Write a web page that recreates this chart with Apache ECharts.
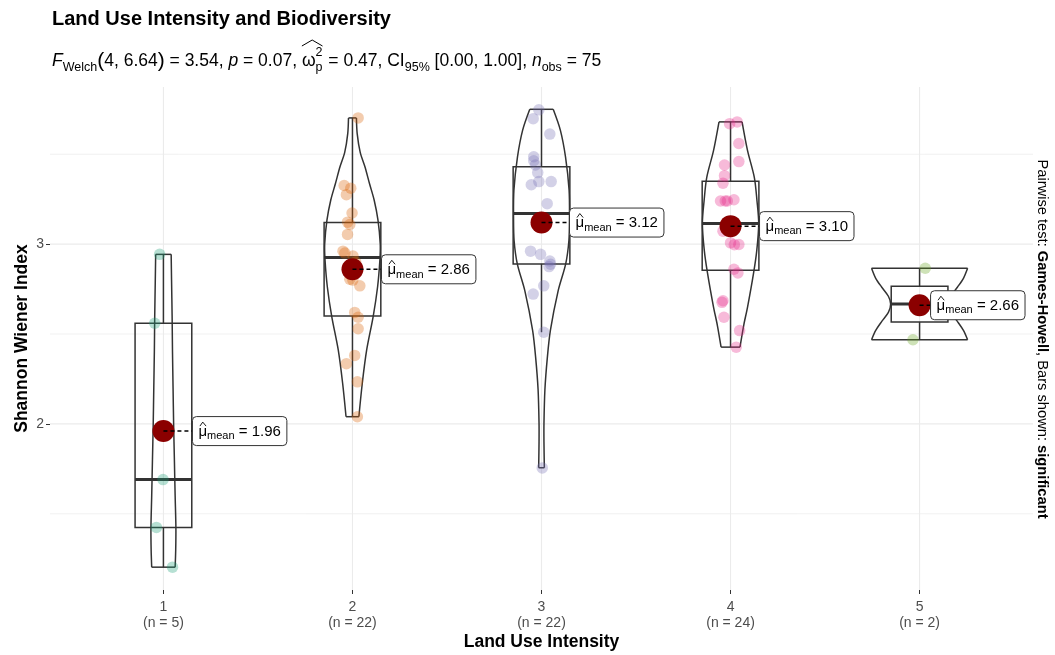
<!DOCTYPE html>
<html>
<head>
<meta charset="utf-8">
<script src="https://cdn.jsdelivr.net/npm/echarts@6/dist/echarts.min.js"></script>
<style>html,body{margin:0;padding:0;background:#fff}#chart{width:1055px;height:655px}</style>
</head>
<body>
<div id="chart"></div>
<script>
// ---------------- data ----------------
const categories = [1, 2, 3, 4, 5];
const groupCounts = [5, 22, 22, 24, 2];
const meanValues = [1.96, 2.86, 3.12, 3.10, 2.66];

const g1Values = [2.943, 2.56, 1.69, 1.424, 1.203];
const g1Jitter = [-0.02, -0.046, -0.002, -0.037, 0.048];

const g2Values = [3.702, 3.326, 3.311, 3.275, 3.173, 3.122, 3.109, 3.054, 2.961, 2.950, 2.934,
                  2.90, 2.805, 2.80, 2.768, 2.62, 2.593, 2.529, 2.381, 2.335, 2.234, 2.04];
const g2Jitter = [0.03, -0.044, -0.009, -0.032, -0.002, -0.026, -0.014, -0.026, -0.05, -0.04, 0.003,
                  0.017, -0.014, 0.002, 0.039, 0.012, 0.03, 0.03, 0.012, -0.032, 0.026, 0.026];

const g3Values = [3.747, 3.698, 3.612, 3.486, 3.464, 3.44, 3.398, 3.348, 3.348, 3.33, 3.225,
                  3.13, 3.10, 2.961, 2.943, 2.906, 2.888, 2.875, 2.768, 2.722, 2.51, 1.755];
const g3Jitter = [-0.014, -0.044, 0.044, -0.041, -0.041, -0.032, -0.02, -0.014, 0.051, -0.054, 0.03,
                  0.01, -0.016, -0.058, -0.005, 0.044, 0.048, 0.04, 0.012, -0.044, 0.012, 0.004];

const g4Values = [3.68, 3.67, 3.56, 3.459, 3.44, 3.381, 3.339, 3.247, 3.24, 3.24, 3.24, 3.12,
                  3.11, 3.072, 3.007, 2.998, 2.997, 2.86, 2.84, 2.685, 2.676, 2.593, 2.519, 2.427];
const g4Jitter = [0.035, -0.005, 0.044, 0.044, -0.032, -0.032, -0.04, 0.018, -0.053, -0.028, -0.017, 0.009,
                  -0.012, -0.04, 0, 0.044, 0.02, 0.018, 0.039, -0.04, -0.045, -0.035, 0.048, 0.03];

const g5Values = [2.866, 2.468];
const g5Jitter = [0.03, -0.035];

// box statistics: [lower whisker, Q1, median, Q3, upper whisker]
const boxStats = [
  [1.203, 1.424, 1.69, 2.56, 2.943],
  [2.04, 2.60, 2.925, 3.12, 3.702],
  [2.51, 2.89, 3.17, 3.43, 3.747],
  [2.427, 2.855, 3.115, 3.35, 3.68],
  [2.468, 2.567, 2.667, 2.766, 2.866]
];

// violin outlines: [value, half-width in category units]
const violin1 = [[1.203,0.062],[1.3,0.065],[1.424,0.066],[1.6,0.062],[1.8,0.058],[2.0,0.054],[2.2,0.051],[2.4,0.048],[2.6,0.046],[2.8,0.043],[2.943,0.041]];
const violin2 = [[2.04,0.034],[2.226,0.052],[2.41,0.075],[2.6,0.11],[2.763,0.133],[2.91,0.145],[3.0,0.147],[3.133,0.135],[3.244,0.115],[3.337,0.09],[3.43,0.066],[3.51,0.041],[3.615,0.025],[3.702,0.021]];
const violin3 = [[1.756,0.015],[1.9,0.013],[2.0,0.013],[2.19,0.018],[2.37,0.031],[2.52,0.047],[2.74,0.088],[2.89,0.128],[3.02,0.145],[3.15,0.148],[3.30,0.146],[3.485,0.127],[3.633,0.1],[3.75,0.062]];
const violin4 = [[2.427,0.05],[2.55,0.07],[2.65,0.09],[2.84,0.122],[2.967,0.139],[3.115,0.149],[3.24,0.14],[3.37,0.126],[3.52,0.09],[3.68,0.061]];
const violin5 = [[2.468,0.254],[2.52,0.232],[2.57,0.2],[2.62,0.165],[2.667,0.153],[2.71,0.165],[2.76,0.2],[2.81,0.232],[2.866,0.254]];

const yTickValues = [2, 3];
const yMajorGrid = [2, 3];
const yMinorGrid = [1.5, 2.5, 3.5];

// ---------------- layout / style ----------------
const groupValues = [g1Values, g2Values, g3Values, g4Values, g5Values];
const groupJitter = [g1Jitter, g2Jitter, g3Jitter, g4Jitter, g5Jitter];
const violinProfiles = [violin1, violin2, violin3, violin4, violin5];
const pointColors = ['rgba(27,158,119,0.4)', 'rgba(217,95,2,0.4)', 'rgba(117,112,179,0.4)', 'rgba(231,41,138,0.4)', 'rgba(102,166,30,0.4)'];
const labelOffsetPx = [29, 29, 28, 29, 11];
const FONT = '"Liberation Sans", Arial, Helvetica, sans-serif';
const LINE = '#333333';

const mctx = document.createElement('canvas').getContext('2d');
function fontStr(size, opt) {
  return (opt && opt.italic ? 'italic ' : '') + (opt && opt.bold ? 'bold ' : '') + size + 'px ' + FONT;
}
function tw(text, font) { mctx.font = font; return mctx.measureText(text).width; }
function textEl(x, baseline, text, size, opt) {
  return {
    type: 'text', x: x, y: baseline - 0.3465 * size,
    style: { text: text, font: fontStr(size, opt), fill: '#000',
             align: 'left', verticalAlign: 'middle', textAlign: 'left', textVerticalAlign: 'middle' }
  };
}

function buildSubtitle(x0, base) {
  const B = 17.5, S = 12.5;
  const els = [];
  let x = x0;
  function add(t, size, dy, opt) {
    els.push(textEl(x, base + dy, t, size, opt));
    x += tw(t, fontStr(size, opt));
  }
  add('F', B, 0, { italic: true });
  add('Welch', S, 4.5);
  add('(', 21, 1.5);
  add('4, 6.64', B, 0);
  add(')', 21, 1.5);
  add(' = 3.54, ', B, 0);
  add('p', B, 0, { italic: true });
  add(' = 0.07, ', B, 0);
  const omegaX = x;
  add('ω', B, 0);
  const sx = x;
  els.push(textEl(sx, base - 10, '2', S));
  els.push(textEl(sx, base + 4.5, 'p', S));
  x = sx + Math.max(tw('2', fontStr(S)), tw('p', fontStr(S)));
  els.push({ type: 'polyline', shape: { points: [[omegaX, base - 21], [(omegaX + x) / 2, base - 27], [x, base - 21]] },
             style: { stroke: '#000', lineWidth: 1, fill: null } });
  x += 1;
  add(' = 0.47, CI', B, 0);
  add('95%', S, 4.5);
  add(' [0.00, 1.00], ', B, 0);
  add('n', B, 0, { italic: true });
  add('obs', S, 4.5);
  add(' = 75', B, 0);
  return els;
}

// ---------------- render functions ----------------
function renderGrid(params, api) {
  const cs = params.coordSys;
  const d = api.value(2);
  const major = api.value(3) === 1;
  const style = { stroke: '#EBEBEB', lineWidth: major ? 1.1 : 0.7 };
  if (d === 0) {
    const p = api.coord([1, api.value(1)]);
    return { type: 'line', shape: { x1: cs.x, y1: p[1], x2: cs.x + cs.width, y2: p[1] }, style: style };
  }
  const p = api.coord([api.value(0), 2]);
  return { type: 'line', shape: { x1: p[0], y1: cs.y, x2: p[0], y2: cs.y + cs.height }, style: style };
}

function renderBox(params, api) {
  const i = params.dataIndex;
  const s = boxStats[i];
  const c = categories[i];
  const hw = 0.15;
  const cx = api.coord([c, s[0]])[0];
  const xL = api.coord([c - hw, s[0]])[0];
  const xR = api.coord([c + hw, s[0]])[0];
  const y = s.map(v => api.coord([c, v])[1]);
  const st = { stroke: LINE, lineWidth: 1.5, fill: 'none' };
  return {
    type: 'group',
    children: [
      { type: 'line', shape: { x1: cx, y1: y[3], x2: cx, y2: y[4] }, style: st },
      { type: 'line', shape: { x1: cx, y1: y[1], x2: cx, y2: y[0] }, style: st },
      { type: 'rect', shape: { x: xL, y: y[3], width: xR - xL, height: y[1] - y[3] }, style: st },
      { type: 'line', shape: { x1: xL, y1: y[2], x2: xR, y2: y[2] }, style: { stroke: LINE, lineWidth: 3 } }
    ]
  };
}

function renderViolin(params, api) {
  const i = params.dataIndex;
  const prof = violinProfiles[i];
  const c = categories[i];
  const right = prof.map(p => api.coord([c + p[1], p[0]]));
  const left = prof.map(p => api.coord([c - p[1], p[0]]));
  const n = prof.length - 1;
  const st = { stroke: LINE, lineWidth: 1.5, fill: null };
  return {
    type: 'group',
    children: [
      { type: 'polyline', shape: { points: right, smooth: 0.3 }, style: st },
      { type: 'polyline', shape: { points: left, smooth: 0.3 }, style: st },
      { type: 'line', shape: { x1: left[0][0], y1: left[0][1], x2: right[0][0], y2: right[0][1] }, style: st },
      { type: 'line', shape: { x1: left[n][0], y1: left[n][1], x2: right[n][0], y2: right[n][1] }, style: st }
    ]
  };
}

function renderMeanLabel(params, api) {
  const i = params.dataIndex;
  const c = api.coord([categories[i], meanValues[i]]);
  const x0 = c[0] + labelOffsetPx[i];
  const cy = c[1];
  const fBig = fontStr(15), fSmall = fontStr(11);
  const rest = ' = ' + meanValues[i].toFixed(2);
  const wMu = tw('μ', fBig), wMean = tw('mean', fSmall), wRest = tw(rest, fBig);
  const pad = 6, h = 29;
  const w = pad * 2 + wMu + wMean + wRest;
  const tx = x0 + pad;
  const base = cy + 5.5;
  return {
    type: 'group',
    children: [
      { type: 'line', shape: { x1: c[0], y1: cy, x2: x0, y2: cy }, style: { stroke: '#000', lineWidth: 1.5, lineDash: [4, 3] } },
      { type: 'rect', shape: { x: x0, y: cy - h / 2, width: w, height: h, r: 4 }, style: { fill: '#fff', stroke: '#333', lineWidth: 1 } },
      textEl(tx, base, 'μ', 15),
      { type: 'polyline', shape: { points: [[tx + 1.5, cy - 5], [tx + wMu / 2, cy - 9], [tx + wMu - 1, cy - 5]] }, style: { stroke: '#000', lineWidth: 0.9, fill: null } },
      textEl(tx + wMu, base + 3.5, 'mean', 11),
      textEl(tx + wMu + wMean, base, rest, 15)
    ]
  };
}

// ---------------- series ----------------
const gridData = [];
yMajorGrid.forEach(v => gridData.push([1, v, 0, 1]));
yMinorGrid.forEach(v => gridData.push([1, v, 0, 0]));
categories.forEach(c => gridData.push([c, 2, 1, 1]));

const series = [
  { type: 'custom', renderItem: renderGrid, data: gridData, silent: true, z: 0 },
  { type: 'custom', renderItem: renderBox, data: categories.map((c, i) => [c, boxStats[i][2]]), silent: true, z: 1 },
  { type: 'custom', renderItem: renderViolin, data: categories.map((c, i) => [c, boxStats[i][2]]), silent: true, z: 2 }
];
groupValues.forEach((vals, g) => {
  series.push({
    type: 'scatter', z: 3, silent: true,
    symbolSize: 11.5,
    itemStyle: { color: pointColors[g], borderWidth: 0 },
    data: vals.map((v, j) => [categories[g] + groupJitter[g][j], v])
  });
});
series.push({
  type: 'scatter', z: 4, silent: true, symbolSize: 22,
  itemStyle: { color: '#8B0000', opacity: 1 },
  data: categories.map((c, i) => [c, meanValues[i]])
});
series.push({ type: 'custom', z: 5, silent: true, renderItem: renderMeanLabel, data: categories.map((c, i) => [c, meanValues[i]]) });

const graphics = buildSubtitle(52, 67);
graphics.push({
  type: 'text', x: 1042, y: 339, rotation: -Math.PI / 2,
  style: {
    text: 'Pairwise test: {b|Games-Howell}, Bars shown: {b|significant}',
    font: fontStr(14.7), fill: '#000', align: 'center', verticalAlign: 'middle', textAlign: 'center', textVerticalAlign: 'middle',
    rich: { b: { fontWeight: 'bold', fontSize: 14.7, fontFamily: FONT } }
  }
});

const chart = echarts.init(document.getElementById('chart'), null, { renderer: 'canvas' });
chart.setOption({
  animation: false,
  backgroundColor: '#fff',
  title: {
    text: 'Land Use Intensity and Biodiversity', left: 47, top: 4,
    textStyle: { fontSize: 20, fontWeight: 'bold', color: '#000', fontFamily: FONT }
  },
  grid: { left: 50, right: 22, top: 87, bottom: 65, containLabel: false, outerBoundsMode: 'none' },
  xAxis: {
    type: 'value', min: 0.4, max: 5.6,
    axisLine: { show: false },
    splitLine: { show: false },
    axisTick: { show: true, customValues: categories, length: 4, lineStyle: { color: '#333' } },
    axisLabel: {
      customValues: categories, color: '#4D4D4D', fontSize: 14, fontFamily: FONT, margin: 9, lineHeight: 16,
      formatter: v => v + '\n(n = ' + groupCounts[categories.indexOf(v)] + ')'
    },
    name: 'Land Use Intensity', nameLocation: 'middle', nameGap: 43.5, nameMoveOverlap: false,
    nameTextStyle: { fontSize: 17.5, fontWeight: 'bold', color: '#000', fontFamily: FONT }
  },
  yAxis: {
    type: 'value', min: 1.076, max: 3.874,
    axisLine: { show: false },
    splitLine: { show: false },
    axisTick: { show: true, customValues: yTickValues, length: 4, lineStyle: { color: '#333' } },
    axisLabel: { customValues: yTickValues, color: '#4D4D4D', fontSize: 14, fontFamily: FONT, margin: 6 },
    name: 'Shannon Wiener Index', nameLocation: 'middle', nameGap: 19, nameMoveOverlap: false,
    nameTextStyle: { fontSize: 17.5, fontWeight: 'bold', color: '#000', fontFamily: FONT }
  },
  graphic: { elements: graphics },
  series: series
});
</script>
</body>
</html>
